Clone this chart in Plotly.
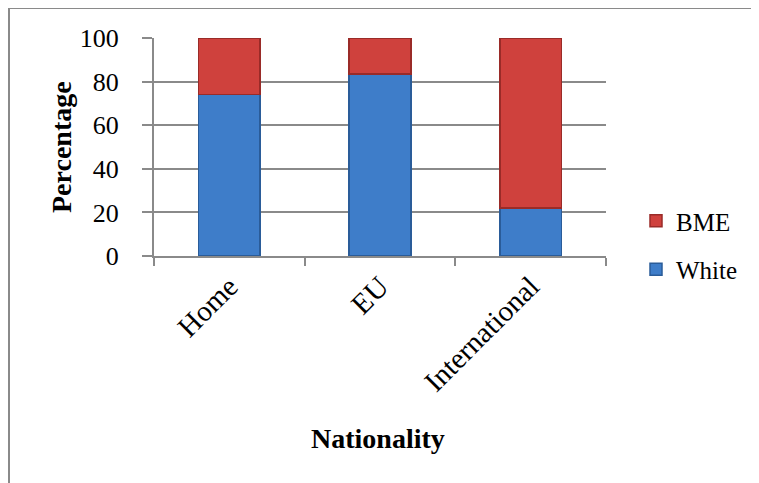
import plotly.graph_objects as go

categories = ["Home", "EU", "International"]
white = [74, 83.5, 22]
bme = [26, 16.5, 78]
y_ticks = [0, 20, 40, 60, 80, 100]

OFF = 8  # page body margin in the browser
W, H = 759 - OFF, 483 - OFF
L, R, T, B = 154 - OFF, 606 - OFF, 38 - OFF, 256 - OFF  # plot area in px (figure coords)

def px_x(p):  # p in screenshot px
    return (p - OFF - L) / (R - L)

def px_y(p):
    return (B - (p - OFF)) / (B - T)

FONT = "Liberation Serif"
grey = "#8a8a8a"

fig = go.Figure()
fig.add_trace(go.Bar(
    x=categories, y=white, name="White", legendgroup="w", legendrank=2,
    marker=dict(color="#3E7DC9", line=dict(color="#2A5C99", width=1.5)),
))
fig.add_trace(go.Bar(
    x=categories, y=bme, name="BME", legendgroup="b", legendrank=1,
    marker=dict(color="#CF413D", line=dict(color="#9A2B28", width=1.5)),
))

fig.update_layout(
    width=W, height=H,
    barmode="stack", bargap=0.59,
    paper_bgcolor="white", plot_bgcolor="white",
    margin=dict(l=L, r=W - R, t=T, b=H - B, autoexpand=False),
    font=dict(family=FONT, size=25, color="black"),
    showlegend=True,
    legend=dict(
        x=px_x(636), xanchor="left", y=px_y(198), yanchor="top",
        traceorder="grouped", tracegroupgap=13,
        font=dict(family=FONT, size=25), bgcolor="rgba(0,0,0,0)",
    ),
    xaxis=dict(
        showgrid=False, showline=True, linecolor=grey, linewidth=2,
        ticks="outside", tickson="boundaries", ticklen=8, tickcolor=grey, tickwidth=2,
        tickangle=-45, tickfont=dict(family=FONT, size=29),
    ),
    yaxis=dict(
        range=[0, 100], tickvals=y_ticks, showgrid=True, gridcolor=grey, gridwidth=2,
        showline=True, linecolor=grey, linewidth=2,
        ticks="outside", ticklen=10, tickcolor=grey, tickwidth=2,
        ticklabelstandoff=18, zeroline=False,
        tickfont=dict(family=FONT, size=26),
    ),
    annotations=[
        dict(text="<b>Percentage</b>", textangle=-90, x=px_x(61), y=px_y(147),
             xanchor="center", yanchor="middle",
             xref="paper", yref="paper", showarrow=False,
             font=dict(family=FONT, size=28)),
        dict(text="<b>Nationality</b>", x=px_x(378), y=px_y(438),
             xanchor="center", yanchor="middle",
             xref="paper", yref="paper", showarrow=False,
             font=dict(family=FONT, size=28)),
    ],
    shapes=[
        dict(type="rect", xref="paper", yref="paper",
             x0=px_x(9), x1=px_x(800), y0=px_y(8), y1=px_y(530),
             line=dict(color=grey, width=2), fillcolor="rgba(0,0,0,0)", layer="below"),
    ],
)

fig.write_html("out.html")
